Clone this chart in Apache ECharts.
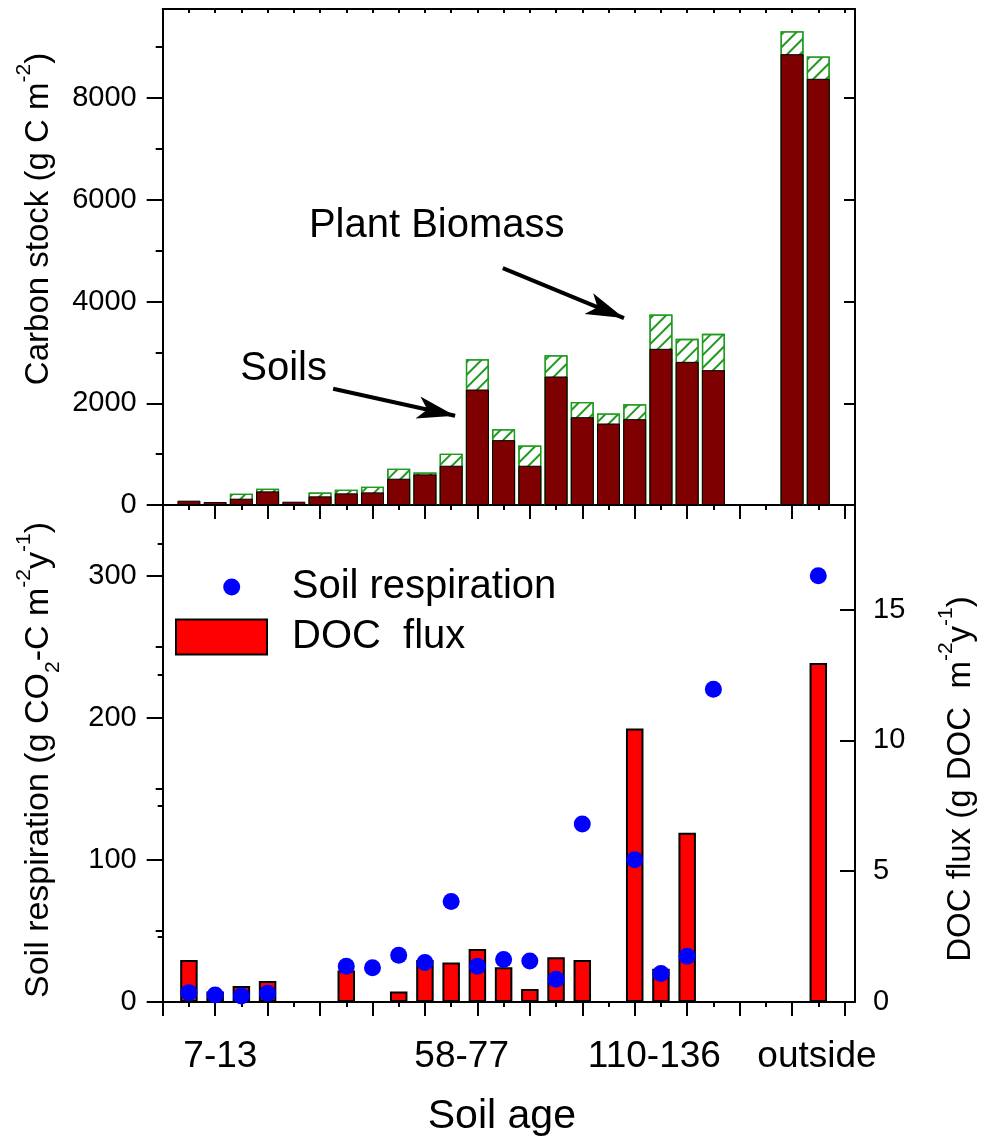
<!DOCTYPE html>
<html>
<head>
<meta charset="utf-8">
<script src="https://cdn.jsdelivr.net/npm/echarts@6/dist/echarts.min.js"></script>
<style>
  html, body { margin: 0; padding: 0; background: #fff; }
  #chart { width: 984px; height: 1142px; }
</style>
</head>
<body>
<div id="chart"></div>
<script>
// ---- Carbon stocks (upper panel), one bar per plot along the chronosequence ----
const stockPos = [1, 2, 3, 4, 5, 6, 7, 8, 9, 10, 11, 12, 13, 14, 15, 16, 17, 18, 19, 20, 21, 24, 25];
const soilC    = [85, 59, 124, 268, 65, 170, 229, 248, 517, 602, 772, 2270, 1275, 772, 2526, 1726, 1602, 1687, 3070, 2814, 2651, 8862, 8378];
const plantC   = [0, 0, 98, 52, 0, 78, 72, 112, 196, 39, 235, 597, 216, 399, 419, 301, 196, 294, 674, 452, 713, 451, 438];

// ---- DOC flux (right axis, lower panel) ----
const docPos  = [1, 2, 3, 4, 7, 9, 10, 11, 12, 13, 14, 15, 16, 18, 19, 20, 25];
const docFlux = [1.61, 0.40, 0.61, 0.80, 1.20, 0.40, 1.61, 1.51, 2.03, 1.33, 0.50, 1.71, 1.61, 10.46, 1.27, 6.47, 12.96];

// ---- Soil respiration (left axis, lower panel) ----
const respPos  = [1, 2, 3, 4, 7, 8, 9, 10, 11, 12, 13, 14, 15, 16, 18, 19, 20, 21, 25];
const soilResp = [6.6, 4.9, 4.2, 6.1, 25.2, 24.2, 32.9, 27.8, 70.8, 25.2, 29.9, 28.9, 16.0, 125.4, 100.2, 20.0, 32.2, 220.2, 300.2];

// ---- Soil age groups shown under the x axis ----
const ageGroups   = ['7-13', '58-77', '110-136', 'outside'];
const ageGroupPos = [2.2, 11.4, 18.75, 24.95];

// ---- Tick values ----
const xMajor = [0, 2, 4, 6, 8, 10, 12, 14, 16, 18, 20, 22, 24, 26];
const xMinor = [1, 3, 5, 7, 9, 11, 13, 15, 17, 19, 21, 23, 25];
const xAll   = [0, 1, 2, 3, 4, 5, 6, 7, 8, 9, 10, 11, 12, 13, 14, 15, 16, 17, 18, 19, 20, 21, 22, 23, 24, 25, 26];
const stockMajor = [0, 2000, 4000, 6000, 8000];
const stockMinor = [1000, 3000, 5000, 7000, 9000];
const respMajor  = [0, 100, 200, 300];
const respMinor  = [50, 150, 250];
const docMajor   = [0, 5, 10, 15];
const docMinor   = [2.5, 7.5, 12.5, 17.5];

const FONT = '"Liberation Sans", Arial, Helvetica, sans-serif';
const BLACK = '#000';
const GREEN = '#1f9a1f';
const X_MAX = 26.4;

const chart = echarts.init(document.getElementById('chart'), null, { renderer: 'canvas' });

const tickStyle = { color: BLACK, width: 2 };
const lineOn = { show: true, onZero: false, lineStyle: { color: BLACK, width: 2 } };
const lineOff = { show: false };

function xAx(grid, position, ticks, len, inside, line, extra) {
  return Object.assign({
    gridIndex: grid, type: 'value', position: position, min: 0, max: X_MAX,
    axisLine: line ? lineOn : lineOff,
    axisTick: { show: true, inside: inside, length: len, lineStyle: tickStyle, customValues: ticks },
    axisLabel: { show: false },
    splitLine: { show: false }
  }, extra || {});
}
function yAx(grid, position, max, ticks, len, inside, line, extra) {
  return Object.assign({
    gridIndex: grid, type: 'value', position: position, min: 0, max: max,
    axisLine: line ? lineOn : lineOff,
    axisTick: { show: true, inside: inside, length: len, lineStyle: tickStyle, customValues: ticks },
    axisLabel: { show: false },
    splitLine: { show: false }
  }, extra || {});
}
function tickLabels(values, margin) {
  return {
    axisLabel: {
      show: true, customValues: values, margin: margin, color: BLACK, fontSize: 29, fontFamily: FONT,
      formatter: function (v) { return String(v); }
    }
  };
}

const titleRich = {
  n: { fontSize: 33, lineHeight: 50, fontFamily: FONT, fill: BLACK },
  s: { fontSize: 21, lineHeight: 21, fontFamily: FONT, fill: BLACK, verticalAlign: 'top' },
  b: { fontSize: 21, lineHeight: 21, fontFamily: FONT, fill: BLACK, verticalAlign: 'bottom' }
};
function vTitle(x, y, text, size) {
  const rich = JSON.parse(JSON.stringify(titleRich));
  if (size) { rich.n.fontSize = size; }
  return {
    type: 'text', x: x, y: y, rotation: Math.PI / 2, silent: true,
    style: { text: text, rich: rich, align: 'center', verticalAlign: 'middle', fill: BLACK, fontSize: 33, fontFamily: FONT }
  };
}

// Arrow head drawn at the end of each annotation line
const arrowEnd = { symbolSize: [17, 38] };

const option = {
  animation: false,
  backgroundColor: '#fff',
  grid: [
    { left: 162.7, right: 129, top: 9, height: 496 },
    { left: 162.7, right: 129, top: 505, height: 497 }
  ],
  xAxis: [
    xAx(0, 'bottom', xMajor, 14, false, true),
    xAx(0, 'bottom', xMinor, 5, false, false),
    xAx(0, 'top', xAll, 4, true, true),
    xAx(1, 'bottom', xMajor, 14, false, true, {
      axisLabel: {
        show: true, customValues: ageGroupPos, margin: 36, color: BLACK, fontSize: 37, fontFamily: FONT,
        formatter: function (v) {
          const i = ageGroupPos.findIndex(function (p) { return Math.abs(p - v) < 1e-6; });
          return i >= 0 ? ageGroups[i] : '';
        }
      },
      name: 'Soil age', nameLocation: 'middle', nameGap: 94,
      nameTextStyle: { fontSize: 41, color: BLACK, fontFamily: FONT, padding: [0, 14, 0, 0] }
    }),
    xAx(1, 'bottom', xMinor, 5, false, false)
  ],
  yAxis: [
    yAx(0, 'left', 9750, stockMajor, 16, false, true, tickLabels(stockMajor, 26)),
    yAx(0, 'left', 9750, stockMinor, 7, false, false),
    yAx(0, 'right', 9750, stockMajor, 11, true, true),
    yAx(0, 'right', 9750, stockMinor, 4, true, false),
    yAx(1, 'left', 350, respMajor, 16, false, true, tickLabels(respMajor, 26)),
    yAx(1, 'left', 350, respMinor, 7, false, false),
    yAx(1, 'right', 19, docMajor, 15, true, true, tickLabels(docMajor, 18)),
    yAx(1, 'right', 19, docMinor, 5, true, false)
  ],
  legend: [
    {
      data: ['Soil respiration'], left: 218.2, top: 562, icon: 'circle',
      itemWidth: 17, itemHeight: 17, selectedMode: false,
      itemStyle: { color: '#0000ff', borderWidth: 0, opacity: 1 },
      textStyle: { fontSize: 40, color: BLACK, fontFamily: FONT, padding: [0, 0, 0, 46.5] }
    },
    {
      data: ['DOC  flux'], left: 170, top: 612, icon: 'rect',
      itemWidth: 91, itemHeight: 35, selectedMode: false,
      itemStyle: { borderColor: BLACK, borderWidth: 2 },
      textStyle: { fontSize: 40, color: BLACK, fontFamily: FONT, padding: [0, 0, 0, 20] }
    }
  ],
  series: [
    {
      // full column height (soil + plant), hatched; the soil part is drawn over it
      name: 'Plant Biomass', type: 'bar', xAxisIndex: 0, yAxisIndex: 0, barWidth: 23, barGap: '-100%',
      data: stockPos.map(function (x, i) { return [x, plantC[i] > 0 ? soilC[i] + plantC[i] : null]; }),
      itemStyle: {
        color: '#fff', borderColor: GREEN, borderWidth: 1.3,
        decal: {
          symbol: 'rect', symbolSize: 1, color: GREEN,
          dashArrayX: [1, 0], dashArrayY: [1.3, 6.5], rotation: -Math.PI / 4
        }
      }
    },
    {
      name: 'Soils', type: 'bar', xAxisIndex: 0, yAxisIndex: 0, barWidth: 23, barGap: '-100%',
      data: stockPos.map(function (x, i) { return [x, soilC[i]]; }),
      itemStyle: { color: '#7f0000', borderColor: BLACK, borderWidth: 1 },
      markLine: {
        silent: true, symbol: ['none', 'arrow'], symbolSize: 1,
        lineStyle: { color: BLACK, width: 4, type: 'solid' },
        itemStyle: { color: BLACK },
        label: { show: false },
        data: [
          [{ coord: [6.50, 2285] }, Object.assign({ coord: [11.15, 1754] }, arrowEnd)],
          [{ coord: [12.97, 4656] }, Object.assign({ coord: [17.59, 3674] }, arrowEnd)]
        ]
      },
      markPoint: {
        silent: true, symbol: 'circle', symbolSize: 1,
        itemStyle: { color: 'rgba(0,0,0,0)' },
        label: { show: true, position: 'inside', color: BLACK, fontSize: 40, fontFamily: FONT },
        data: [
          { name: 'Soils', coord: [4.61, 2678], label: { formatter: 'Soils' } },
          { name: 'Plant Biomass', coord: [10.45, 5487], label: { formatter: 'Plant Biomass' } }
        ]
      }
    },
    {
      name: 'DOC  flux', type: 'bar', xAxisIndex: 3, yAxisIndex: 6, barWidth: 17.5,
      data: docPos.map(function (x, i) { return [x, docFlux[i]]; }),
      itemStyle: { color: '#ff0000', borderColor: BLACK, borderWidth: 2 }
    },
    {
      name: 'Soil respiration', type: 'scatter', xAxisIndex: 3, yAxisIndex: 4,
      symbol: 'circle', symbolSize: 17,
      data: respPos.map(function (x, i) { return [x, soilResp[i]]; }),
      itemStyle: { color: '#0000ff', opacity: 1 }
    }
  ],
  graphic: [
    vTitle(39, 219, '{n|Carbon stock (g C m}{s|-2}{n|)}'),
    vTitle(39, 760, '{n|Soil respiration (g CO}{b|2}{n|-C m}{s|-2}{n|y}{s|-1}{n|)}', 34),
    vTitle(961, 779, '{n|DOC flux (g DOC  m}{s|-2}{n|y}{s|-1}{n|)}')
  ]
};

chart.setOption(option);
</script>
</body>
</html>
